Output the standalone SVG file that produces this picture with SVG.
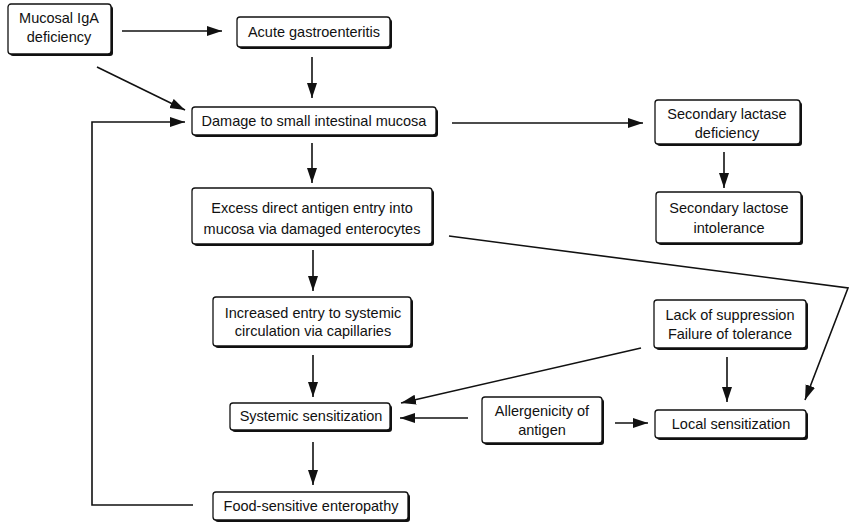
<svg xmlns="http://www.w3.org/2000/svg" width="850" height="524" viewBox="0 0 850 524">
<style>
  .sh{fill:#111;stroke:none}
  .bx{fill:#fff;stroke:#111;stroke-width:1.3}
  .t{font-family:"Liberation Sans",Arial,sans-serif;font-size:14.5px;fill:#111;text-anchor:middle}
  .c{fill:none;stroke:#111;stroke-width:1.6}
</style>
<defs>
  <marker id="ah" markerUnits="userSpaceOnUse" markerWidth="16" markerHeight="11" refX="15" refY="5.5" orient="auto">
    <path d="M0,0.5 L15,5.5 L0,10.5 Z" fill="#111"/>
  </marker>
</defs>
<rect width="850" height="524" fill="#fff"/>
<g id="connectors">
  <line class="c" x1="122" y1="31" x2="222" y2="31" marker-end="url(#ah)"/>
  <line class="c" x1="97" y1="67" x2="185" y2="110" marker-end="url(#ah)"/>
  <polyline class="c" points="193,505 92,505 92,122 185,122" marker-end="url(#ah)"/>
  <line class="c" x1="312" y1="57" x2="312" y2="98" marker-end="url(#ah)"/>
  <line class="c" x1="452" y1="123" x2="643" y2="123" marker-end="url(#ah)"/>
  <line class="c" x1="724" y1="152" x2="724" y2="188" marker-end="url(#ah)"/>
  <line class="c" x1="312" y1="143" x2="312" y2="183" marker-end="url(#ah)"/>
  <line class="c" x1="313" y1="250" x2="313" y2="291" marker-end="url(#ah)"/>
  <polyline class="c" points="449,236 848,288 805,400" marker-end="url(#ah)"/>
  <line class="c" x1="313" y1="355" x2="313" y2="397" marker-end="url(#ah)"/>
  <line class="c" x1="641" y1="348" x2="401" y2="403" marker-end="url(#ah)"/>
  <line class="c" x1="727" y1="357" x2="727" y2="402" marker-end="url(#ah)"/>
  <line class="c" x1="468" y1="418" x2="400" y2="418" marker-end="url(#ah)"/>
  <line class="c" x1="615" y1="423" x2="648" y2="423" marker-end="url(#ah)"/>
  <line class="c" x1="313" y1="442" x2="313" y2="485" marker-end="url(#ah)"/>
</g>
<g id="n-mucosal-iga">
  <rect class="sh" x="10" y="6" width="103" height="50" rx="3"/>
  <rect class="bx" x="8" y="4" width="103" height="50" rx="3"/>
  <text class="t" x="59" y="23">Mucosal IgA</text>
  <text class="t" x="59" y="42">deficiency</text>
</g>
<g id="n-acute">
  <rect class="sh" x="239" y="19" width="153" height="30" rx="3"/>
  <rect class="bx" x="237" y="17" width="153" height="30" rx="3"/>
  <text class="t" x="314" y="37">Acute gastroenteritis</text>
</g>
<g id="n-damage">
  <rect class="sh" x="194" y="109" width="244" height="28" rx="3"/>
  <rect class="bx" x="192" y="107" width="244" height="28" rx="3"/>
  <text class="t" x="314" y="126">Damage to small intestinal mucosa</text>
</g>
<g id="n-lactase">
  <rect class="sh" x="657" y="102" width="145" height="44" rx="3"/>
  <rect class="bx" x="655" y="100" width="145" height="44" rx="3"/>
  <text class="t" x="727" y="119">Secondary lactase</text>
  <text class="t" x="727" y="138">deficiency</text>
</g>
<g id="n-lactose">
  <rect class="sh" x="658" y="194" width="145" height="51" rx="3"/>
  <rect class="bx" x="656" y="192" width="145" height="51" rx="3"/>
  <text class="t" x="729" y="213">Secondary lactose</text>
  <text class="t" x="729" y="233">intolerance</text>
</g>
<g id="n-excess">
  <rect class="sh" x="194" y="190" width="240" height="56" rx="3"/>
  <rect class="bx" x="192" y="188" width="240" height="56" rx="3"/>
  <text class="t" x="312" y="213">Excess direct antigen entry into</text>
  <text class="t" x="312" y="234">mucosa via damaged enterocytes</text>
</g>
<g id="n-increased">
  <rect class="sh" x="215" y="299" width="198" height="49" rx="3"/>
  <rect class="bx" x="213" y="297" width="198" height="49" rx="3"/>
  <text class="t" x="313" y="318">Increased entry to systemic</text>
  <text class="t" x="313" y="336">circulation via capillaries</text>
</g>
<g id="n-systemic">
  <rect class="sh" x="232" y="405" width="160" height="27" rx="3"/>
  <rect class="bx" x="230" y="403" width="160" height="27" rx="3"/>
  <text class="t" x="311" y="421">Systemic sensitization</text>
</g>
<g id="n-food">
  <rect class="sh" x="215" y="494" width="195" height="28" rx="3"/>
  <rect class="bx" x="213" y="492" width="195" height="28" rx="3"/>
  <text class="t" x="311" y="511">Food-sensitive enteropathy</text>
</g>
<g id="n-lack">
  <rect class="sh" x="656" y="302" width="152" height="48" rx="3"/>
  <rect class="bx" x="654" y="300" width="152" height="48" rx="3"/>
  <text class="t" x="730" y="320">Lack of suppression</text>
  <text class="t" x="730" y="339">Failure of tolerance</text>
</g>
<g id="n-allergenicity">
  <rect class="sh" x="484" y="399" width="120" height="46" rx="3"/>
  <rect class="bx" x="482" y="397" width="120" height="46" rx="3"/>
  <text class="t" x="542" y="416">Allergenicity of</text>
  <text class="t" x="542" y="435">antigen</text>
</g>
<g id="n-local">
  <rect class="sh" x="657" y="412" width="151" height="28" rx="3"/>
  <rect class="bx" x="655" y="410" width="151" height="28" rx="3"/>
  <text class="t" x="731" y="429">Local sensitization</text>
</g>
</svg>
